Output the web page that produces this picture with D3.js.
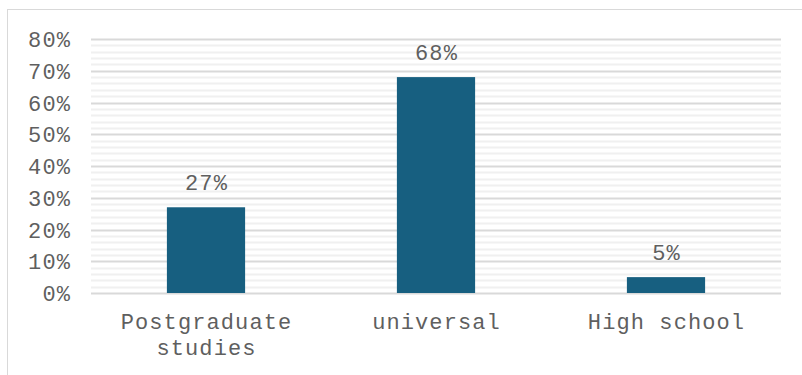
<!DOCTYPE html>
<html>
<head>
<meta charset="utf-8">
<script src="https://cdn.jsdelivr.net/npm/d3@7"></script>
<style>
  html, body { margin: 0; padding: 0; background: #fff; }
  svg { display: block; }
  text { font-family: "Liberation Mono", "Courier New", monospace; fill: #5f5f5f; letter-spacing: 1.1px; }
</style>
</head>
<body>
<script>
const categories = ["Postgraduate studies", "universal", "High school"];
const values = [27, 68, 5];
const valueLabels = ["27%", "68%", "5%"];
const yTicks = [0, 10, 20, 30, 40, 50, 60, 70, 80];
const yMinorTicks = d3.range(0, 81, 2);

const W = 802, H = 375;
const margin = { left: 91, right: 21, top: 39, bottom: 82 };
const FS = 22;

const svg = d3.select("body").append("svg").attr("width", W).attr("height", H);

// chart border
svg.append("rect")
  .attr("x", 7.5).attr("y", 9.5).attr("width", 900).attr("height", 400)
  .attr("fill", "none").attr("stroke", "#d9d9d9").attr("stroke-width", 1);

const x = d3.scaleBand().domain(categories)
  .range([margin.left, W - margin.right]).paddingInner(0.66).paddingOuter(0.33);
const y = d3.scaleLinear().domain([0, 80]).range([H - margin.bottom, margin.top]);

// minor gridlines
svg.append("g").selectAll("line").data(yMinorTicks.filter(d => d % 10 !== 0)).join("line")
  .attr("x1", margin.left).attr("x2", W - margin.right)
  .attr("y1", d => Math.round(y(d)) + 0.5).attr("y2", d => Math.round(y(d)) + 0.5)
  .attr("stroke", "#f0f0f0").attr("stroke-width", 2);

// major gridlines
svg.append("g").selectAll("line").data(yTicks).join("line")
  .attr("x1", margin.left).attr("x2", W - margin.right)
  .attr("y1", d => Math.round(y(d)) + 0.5).attr("y2", d => Math.round(y(d)) + 0.5)
  .attr("stroke", "#d9d9d9").attr("stroke-width", 2);

// y axis labels
const yAxis = d3.axisLeft(y).tickValues(yTicks).tickFormat(d => d + "%").tickSize(0).tickPadding(20);
const gy = svg.append("g").attr("transform", `translate(${margin.left},0)`).call(yAxis);
gy.select(".domain").remove();
gy.attr("font-family", null).attr("font-size", null);
gy.selectAll("text").attr("font-size", FS).attr("dy", "0.35em").attr("fill", null);

// bars
svg.append("g").selectAll("rect").data(values).join("rect")
  .attr("x", (d, i) => x(categories[i]))
  .attr("width", x.bandwidth())
  .attr("y", d => y(d))
  .attr("height", d => y(0) - y(d))
  .attr("fill", "#175f80");

// value labels
svg.append("g").selectAll("text").data(values).join("text")
  .attr("x", (d, i) => x(categories[i]) + x.bandwidth() / 2 + 0.5)
  .attr("y", d => y(d) - 25)
  .attr("dy", "0.35em")
  .attr("text-anchor", "middle")
  .attr("font-size", FS)
  .text((d, i) => valueLabels[i]);

// category labels (wrapped)
const wrap = { "Postgraduate studies": ["Postgraduate", "studies"] };
const cx = svg.append("g");
categories.forEach(c => {
  const lines = wrap[c] || [c];
  const px = x(c) + x.bandwidth() / 2 + 0.5;
  const t = cx.append("text")
    .attr("x", px)
    .attr("y", 321)
    .attr("text-anchor", "middle")
    .attr("font-size", FS);
  lines.forEach((l, i) => t.append("tspan")
    .attr("x", px)
    .attr("dy", i === 0 ? "0.35em" : "1.2em").text(l));
});
</script>
</body>
</html>
